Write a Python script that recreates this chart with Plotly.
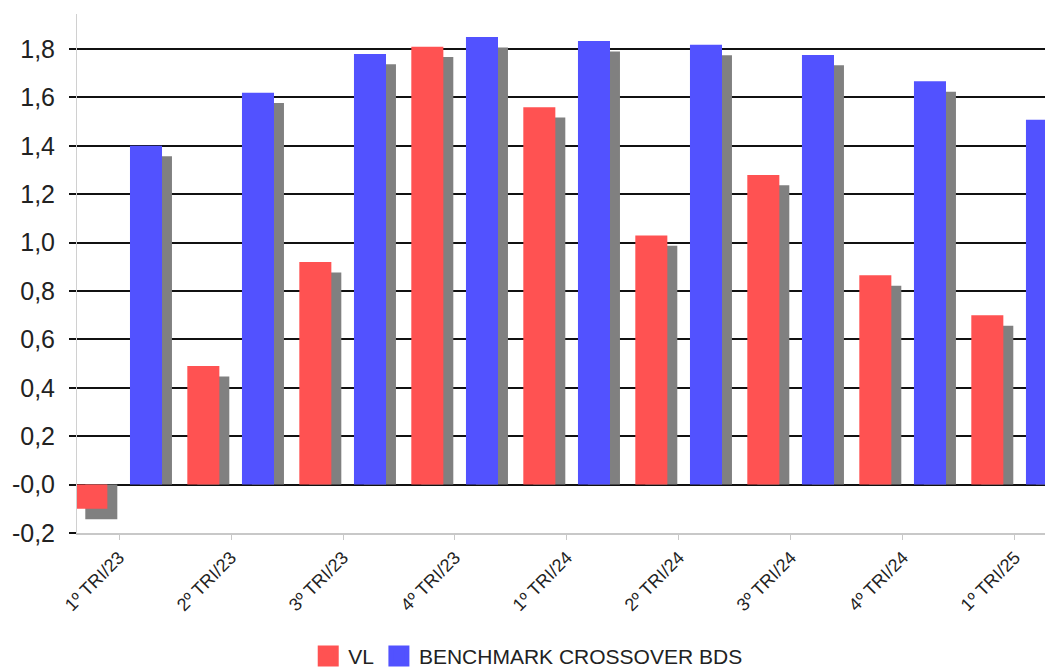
import plotly.graph_objects as go

# Quarterly categories and series
quarters = ["1º TRI/23", "2º TRI/23", "3º TRI/23", "4º TRI/23",
            "1º TRI/24", "2º TRI/24", "3º TRI/24", "4º TRI/24", "1º TRI/25"]
vl = [-0.10, 0.49, 0.92, 1.81, 1.56, 1.03, 1.28, 0.865, 0.70]
benchmark = [1.40, 1.62, 1.78, 1.85, 1.833, 1.818, 1.776, 1.667, 1.508]

y_ticks = [-0.2, 0.0, 0.2, 0.4, 0.6, 0.8, 1.0, 1.2, 1.4, 1.6, 1.8]
y_tick_text = ["-0,2", "-0,0", "0,2", "0,4", "0,6", "0,8", "1,0", "1,2", "1,4", "1,6", "1,8"]

RED = "#FF5252"
BLUE = "#5252FF"
SHADOW = "#808080"
FONT = "Liberation Sans, Arial, sans-serif"

BAR_W = 0.286        # bar width in category units
RED_OFF = -0.39      # left edge of the VL bar relative to category centre
BLUE_OFF = 0.098     # left edge of the benchmark bar
SH_DX = 0.089        # drop-shadow shift (category units)
SH_DY = 0.043        # drop-shadow shift (value units)

idx = list(range(len(quarters)))

fig = go.Figure()

# drop shadows, drawn first so the coloured bars sit on top
for series, off in ((vl, RED_OFF), (benchmark, BLUE_OFF)):
    fig.add_trace(go.Bar(
        x=idx, y=[v - SH_DY for v in series], base=0,
        offset=off + SH_DX, width=BAR_W,
        marker=dict(color=SHADOW, line=dict(width=0)),
        showlegend=False, hoverinfo="skip"))

fig.add_trace(go.Bar(
    x=idx, y=vl, offset=RED_OFF, width=BAR_W, name="VL",
    marker=dict(color=RED, line=dict(width=0)), showlegend=False))
fig.add_trace(go.Bar(
    x=idx, y=benchmark, offset=BLUE_OFF, width=BAR_W,
    name="BENCHMARK CROSSOVER BDS",
    marker=dict(color=BLUE, line=dict(width=0)), showlegend=False))

# legend entries with large square swatches
for name, col in (("VL", RED), ("BENCHMARK CROSSOVER BDS", BLUE)):
    fig.add_trace(go.Scatter(
        x=[None], y=[None], mode="markers", name=name,
        marker=dict(symbol="square", size=16, color=col,
                    line=dict(color=col, width=6))))

fig.update_layout(
    width=1045, height=669,
    margin=dict(l=77, r=0, t=14, b=136),
    paper_bgcolor="white", plot_bgcolor="white",
    barmode="overlay",
    font=dict(family=FONT, color="#222222"),
    legend=dict(orientation="h", xref="container", x=0.505, xanchor="center",
                yref="container", y=0.019, yanchor="middle",
                font=dict(size=21, family=FONT, color="#222222"),
                itemclick=False, itemdoubleclick=False),
    xaxis=dict(
        range=[-0.375, 8.268],
        tickmode="array", tickvals=idx, ticktext=quarters,
        tickangle=-45, tickfont=dict(size=18, family=FONT, color="#222222"),
        ticks="outside", ticklen=5, tickcolor="#c8c8c8", tickwidth=1,
        showline=True, linecolor="#c8c8c8", linewidth=2,
        showgrid=False, zeroline=False),
    yaxis=dict(
        range=[-0.2, 1.945],
        tickmode="array", tickvals=y_ticks, ticktext=y_tick_text,
        tickfont=dict(size=25, family=FONT, color="#222222"),
        ticks="outside", ticklen=7, tickcolor="#111111", tickwidth=2,
        ticklabelstandoff=9,
        showline=True, linecolor="#d0d0d0", linewidth=1,
        showgrid=True, gridcolor="#111111", gridwidth=2,
        zeroline=True, zerolinecolor="#111111", zerolinewidth=2),
)

fig.write_html("out.html")
